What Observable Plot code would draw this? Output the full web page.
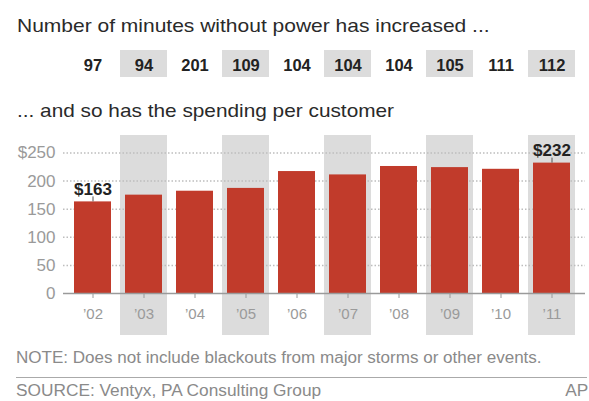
<!DOCTYPE html>
<html>
<head>
<meta charset="utf-8">
<script src="https://cdn.jsdelivr.net/npm/d3@7"></script>
<script src="https://cdn.jsdelivr.net/npm/@observablehq/plot@0.6"></script>
<style>
  html, body { margin: 0; padding: 0; background: #fff; }
  body { width: 589px; height: 401px; position: relative; overflow: hidden; font-family: "Liberation Sans", Arial, sans-serif; }
  .t { position: absolute; line-height: 1; white-space: nowrap; transform: scaleX(1.08); transform-origin: left center; }
  #title { left: 17px; top: 15.5px; font-size: 19px; color: #2a2a2a; transform: scaleX(1.105); }
  #subtitle { left: 17px; top: 101px; font-size: 19px; color: #2a2a2a; transform: scaleX(1.095); }
  #note { left: 16px; top: 349.5px; font-size: 16px; color: #8a8a8a; transform: scaleX(1.065); }
  #rule { position: absolute; left: 16px; width: 571px; top: 376.5px; height: 0; border-top: 1.5px solid #aaa; }
  #source { left: 16px; top: 383px; font-size: 16px; color: #8a8a8a; }
  #ap { right: 1px; top: 383px; font-size: 16px; color: #8a8a8a; transform-origin: right center; }
  #minutes { position: absolute; left: 0; top: 50px; }
  #chart { position: absolute; left: 0; top: 130px; }
</style>
</head>
<body>
<div class="t" id="title">Number of minutes without power has increased ...</div>
<div id="minutes"></div>
<div class="t" id="subtitle">... and so has the spending per customer</div>
<div id="chart"></div>
<div class="t" id="note">NOTE: Does not include blackouts from major storms or other events.</div>
<div id="rule"></div>
<div class="t" id="source">SOURCE: Ventyx, PA Consulting Group</div>
<div class="t" id="ap">AP</div>
<script>
const years = ["’02", "’03", "’04", "’05", "’06", "’07", "’08", "’09", "’10", "’11"];
const minutes = [97, 94, 201, 109, 104, 104, 104, 105, 111, 112];
const spending = [163, 175, 182, 187, 217, 211, 226, 224, 221, 232];
const shadedYears = ["’03", "’05", "’07", "’09", "’11"];
const labeledYears = ["’02", "’11"];
const yTicks = [0, 50, 100, 150, 200, 250];

const rows = years.map((y, i) => ({year: y, minutes: minutes[i], spending: spending[i]}));
const shaded = rows.filter(d => shadedYears.includes(d.year));
const labeled = rows.filter(d => labeledYears.includes(d.year));

const FONT = "'Liberation Sans', Arial, sans-serif";
const xScale = {type: "band", domain: years, paddingInner: 0.28, paddingOuter: 0.14};
const BAR = "#c13b2b";
const SHADE = "#dcdcdc";

// Minutes row
const minutesPlot = Plot.plot({
  width: 589, height: 27,
  marginLeft: 64, marginRight: 10, marginTop: 0, marginBottom: 0,
  style: {fontFamily: FONT, background: "transparent"},
  x: {...xScale, axis: null},
  marks: [
    Plot.cell(shaded, {x: "year", fill: SHADE, insetLeft: -5, insetRight: -5}),
    Plot.text(rows, {x: "year", text: d => String(d.minutes), frameAnchor: "middle", dy: 1.5,
      fontSize: 16.5, fontWeight: "bold", fill: "#222"})
  ]
});
document.getElementById("minutes").appendChild(minutesPlot);

// Bar chart
const chartPlot = Plot.plot({
  width: 589, height: 215,
  marginLeft: 64, marginRight: 10, marginTop: 22.5, marginBottom: 52,
  style: {fontFamily: FONT, background: "transparent", overflow: "visible"},
  x: {...xScale, axis: null, label: null},
  y: {domain: [0, 250], axis: null, label: null},
  marks: [
    Plot.barY(shaded, {x: "year", y1: 0, y2: 250, fill: SHADE,
      insetLeft: -5, insetRight: -5, insetTop: -17.5, insetBottom: -42}),
    Plot.ruleY(yTicks.filter(d => d > 0), {stroke: "#bdbdbd", strokeWidth: 1.5, strokeDasharray: "1.5,2",
      insetLeft: -1, insetRight: -6}),
    Plot.barY(rows, {x: "year", y: "spending", fill: BAR}),
    Plot.ruleY([0], {stroke: "#9a9a9a", strokeWidth: 1.5, insetLeft: -1, insetRight: -6}),
    Plot.axisY({ticks: yTicks, tickSize: 0, tickPadding: 9, fontSize: 17, color: "#9a9a9a", label: null,
      tickFormat: d => d === 250 ? "$250" : String(d)}),
    Plot.axisX({tickSize: 5, tickPadding: 10, fontSize: 15, color: "#9a9a9a", stroke: "#9a9a9a", label: null}),
    Plot.ruleX(labeled, {x: "year", y1: "spending", y2: "spending", insetTop: -5, stroke: "#555", strokeWidth: 1}),
    Plot.text(labeled, {x: "year", y: "spending", text: d => "$" + d.spending, dy: -12.5,
      fontSize: 17, fontWeight: "bold", fill: "#222", lineAnchor: "middle"})
  ]
});
document.getElementById("chartPlot" ? "chart" : "chart").appendChild(chartPlot);
</script>
</body>
</html>
